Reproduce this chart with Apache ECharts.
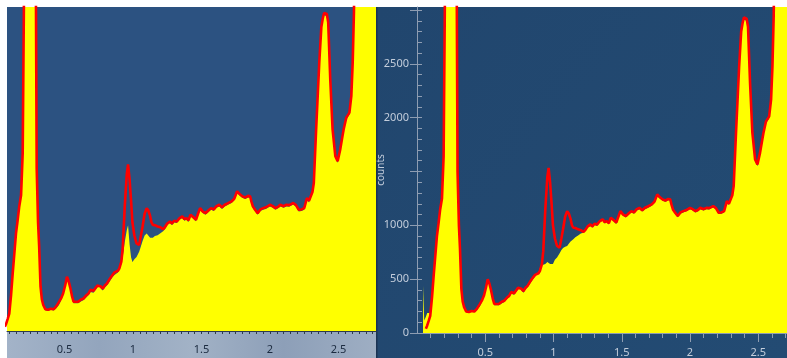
<!DOCTYPE html>
<html><head><meta charset="utf-8">
<script src="https://cdn.jsdelivr.net/npm/echarts@6/dist/echarts.min.js"></script>
<style>html,body{margin:0;padding:0;background:#fff}#c{width:787px;height:358px}</style>
</head><body><div id="c"></div>
<script>
// energy axis (x) sample positions
const xs = [
  0.044,0.045,0.051,0.053,0.065,0.075,0.085,0.097,0.11,0.122,
  0.135,0.146,0.158,0.17,0.183,0.195,0.205,0.215,0.235,0.25,
  0.265,0.28,0.29,0.297,0.307,0.315,0.325,0.335,0.345,0.36,
  0.38,0.4,0.42,0.437,0.45,0.46,0.475,0.49,0.505,0.518,
  0.53,0.542,0.555,0.566,0.58,0.6,0.62,0.64,0.66,0.675,
  0.69,0.7,0.712,0.725,0.74,0.75,0.765,0.78,0.795,0.81,
  0.83,0.85,0.865,0.875,0.89,0.9,0.915,0.925,0.94,0.955,
  0.964,0.975,0.986,0.996,1.01,1.026,1.045,1.058,1.07,1.085,
  1.1,1.112,1.125,1.135,1.145,1.16,1.18,1.2,1.22,1.235,
  1.25,1.27,1.285,1.3,1.32,1.34,1.36,1.375,1.39,1.405,
  1.42,1.44,1.46,1.475,1.49,1.51,1.53,1.55,1.57,1.59,
  1.61,1.63,1.65,1.67,1.69,1.72,1.74,1.76,1.78,1.8,
  1.82,1.84,1.855,1.865,1.875,1.89,1.91,1.93,1.95,1.97,
  2.0,2.02,2.04,2.06,2.075,2.1,2.12,2.14,2.17,2.19,
  2.21,2.23,2.25,2.27,2.285,2.295,2.31,2.32,2.337,2.36,
  2.375,2.385,2.395,2.405,2.415,2.425,2.44,2.457,2.477,2.494,
  2.513,2.53,2.538,2.557,2.58,2.594,2.604,2.613,2.625,2.65,
  2.7,2.75,2.78
];
// red spectrum (counts)
const redCounts = [
  null,null,null,null,40,70,110,160,330,530,
  730,900,1020,1150,1250,1640,3200,6000,8500,9000,
  8500,6000,3500,1500,1000,780,410,290,240,200,
  195,205,200,222,240,268,300,345,420,500,
  460,400,320,270,265,270,290,300,330,345,
  380,392,370,376,420,438,410,390,420,438,
  480,515,540,546,555,575,640,760,1150,1450,
  1534,1400,1200,1000,880,808,793,880,963,1080,
  1132,1110,1060,1000,978,975,963,955,938,960,
  990,1009,990,1015,1009,1040,1056,1030,1040,1020,
  1071,1050,1025,1080,1132,1100,1086,1110,1132,1120,
  1150,1163,1140,1163,1175,1194,1220,1287,1260,1240,
  1230,1245,1241,1190,1148,1120,1086,1120,1132,1140,
  1163,1150,1132,1145,1163,1150,1163,1160,1179,1160,
  1117,1120,1132,1225,1200,1210,1280,1364,1858,2475,
  2800,2877,2930,2938,2920,2845,2321,1858,1611,1565,
  1673,1800,1858,1966,2012,2167,2475,2938,4000,6000,
  8000,9000,9500
];
// yellow spectrum, left view (counts)
const yellowLeftCounts = [
  0,0,55,65,80,95,125,165,325,525,
  725,895,1015,1145,1245,1630,3150,5900,8450,8950,
  8450,5900,3400,1450,970,760,400,280,232,192,
  185,196,190,205,220,240,280,330,405,485,
  445,385,300,255,250,255,272,285,310,330,
  360,378,352,360,400,420,392,372,400,420,
  455,495,515,522,540,560,620,680,820,930,
  975,800,680,636,660,682,730,780,830,880,
  898,880,860,853,860,875,883,900,920,940,
  975,995,975,1000,995,1025,1040,1015,1025,1005,
  1055,1035,1010,1065,1115,1085,1070,1095,1118,1105,
  1135,1148,1125,1148,1160,1180,1205,1270,1245,1225,
  1215,1230,1226,1175,1133,1105,1072,1105,1118,1125,
  1148,1135,1118,1130,1148,1135,1148,1145,1165,1145,
  1102,1105,1118,1210,1185,1195,1265,1345,1830,2450,
  2780,2860,2910,2920,2900,2825,2300,1840,1595,1550,
  1655,1780,1840,1945,1995,2150,2450,2910,3950,5950,
  7950,8950,9450
];
// yellow spectrum, right view (counts)
const yellowRightCounts = [
  0,438,438,115,150,185,200,185,320,525,
  725,895,1015,1145,1245,1630,3150,5900,8450,8950,
  8450,5900,3400,1450,970,760,400,280,232,192,
  188,198,192,210,225,245,285,335,410,490,
  450,390,305,258,252,258,275,288,315,332,
  365,380,355,362,405,425,395,375,405,425,
  462,500,525,535,560,600,630,645,640,660,
  650,640,655,640,680,701,740,770,790,800,
  808,830,850,860,870,890,905,925,930,950,
  978,995,978,1002,995,1028,1042,1018,1028,1008,
  1058,1038,1012,1068,1118,1088,1072,1098,1120,1108,
  1138,1150,1128,1150,1162,1182,1208,1272,1248,1228,
  1218,1232,1228,1178,1136,1108,1074,1108,1120,1128,
  1150,1138,1120,1132,1150,1138,1150,1148,1168,1148,
  1105,1108,1120,1212,1188,1198,1268,1350,1835,2455,
  2780,2860,2910,2920,2900,2825,2300,1840,1595,1550,
  1655,1780,1840,1945,1995,2150,2450,2910,3950,5950,
  7950,8950,9450
];
// tick labels
const xTickLabels = [0.5, 1, 1.5, 2, 2.5];
const yTickLabels = [0, 500, 1000, 2000, 2500];
const yMajorTicks = [0, 500, 1000, 1500, 2000, 2500, 3000];
const leftMinorTicks = [];
for (let i = 2; i <= 55; i++) leftMinorTicks.push(Math.round(i * 5) / 100);
const rightMinorX = [];
for (let i = 1; i <= 27; i++) rightMinorX.push(i / 10);
const rightMinorY = [];
for (let i = 0; i <= 30; i++) rightMinorY.push(i * 100);

const pairs = arr => xs.map((x, i) => [x, arr[i]]);
const lightTxt = '#c3cddb';
const axisGray = '#8e9db2';
const plain = v => String(v);

const chart = echarts.init(document.getElementById('c'));
chart.setOption({
  animation: false,
  backgroundColor: '#ffffff',
  graphic: [
    { type: 'rect', z: -100, shape: { x: 376, y: 7, width: 411, height: 351 },
      style: { fill: { type: 'linear', x: 0, y: 0, x2: 1, y2: 1, colorStops: [
        { offset: 0, color: '#21466e' }, { offset: 1, color: '#234b73' }] } } },
    { type: 'rect', z: -99, shape: { x: 376, y: 7, width: 1.5, height: 351 }, style: { fill: '#1a3353' } },
    { type: 'rect', z: -100, shape: { x: 7, y: 331, width: 369, height: 27 },
      style: { fill: { type: 'linear', x: 0, y: 0, x2: 1, y2: 0, colorStops: [
        { offset: 0, color: '#a3b3c8' }, { offset: 0.25, color: '#93a5bd' },
        { offset: 0.5, color: '#a2b2c6' }, { offset: 0.75, color: '#8d9fb8' },
        { offset: 1, color: '#9eaec3' }] } } }
  ],
  grid: [
    { left: 7, top: 7, width: 369, height: 324, show: true, backgroundColor: '#2c5281', borderWidth: 0 },
    { left: 417, top: 7, width: 370, height: 327, show: false }
  ],
  xAxis: [
    { gridIndex: 0, type: 'value', min: 0.0803, max: 2.774, position: 'bottom',
      axisLine: { show: true, lineStyle: { color: '#2e3a4a', width: 1 } },
      axisTick: { show: true, customValues: leftMinorTicks, length: 3, lineStyle: { color: '#2e3a4a' } },
      axisLabel: { customValues: xTickLabels, formatter: plain, color: '#1c2b40', fontSize: 11, margin: 13, fontFamily: 'Noto Sans' },
      splitLine: { show: false } },
    { gridIndex: 1, type: 'value', min: 0, max: 2.7106, position: 'bottom',
      axisLine: { show: true, lineStyle: { color: axisGray } },
      axisTick: { show: true, customValues: xTickLabels, length: 9, lineStyle: { color: axisGray } },
      axisLabel: { customValues: xTickLabels, formatter: plain, color: lightTxt, fontSize: 11, margin: 14, fontFamily: 'Noto Sans' },
      splitLine: { show: false } },
    { gridIndex: 1, type: 'value', min: 0, max: 2.7106, position: 'bottom',
      axisLine: { show: false },
      axisTick: { show: true, customValues: rightMinorX, length: 5, lineStyle: { color: axisGray } },
      axisLabel: { show: false }, splitLine: { show: false } }
  ],
  yAxis: [
    { gridIndex: 0, type: 'value', min: 0, max: 2985, show: false, splitLine: { show: false } },
    { gridIndex: 1, type: 'value', min: 0, max: 3028, position: 'left',
      name: 'counts', nameLocation: 'middle', nameGap: 31, nameMoveOverlap: false,
      nameTextStyle: { color: lightTxt, fontSize: 10, fontFamily: 'Noto Sans' },
      axisLine: { show: true, lineStyle: { color: axisGray } },
      axisTick: { show: true, customValues: yMajorTicks, length: 7, lineStyle: { color: axisGray } },
      axisLabel: { customValues: yTickLabels, formatter: plain, color: lightTxt, fontSize: 11, margin: 8, fontFamily: 'Noto Sans' },
      splitLine: { show: false } },
    { gridIndex: 1, type: 'value', min: 0, max: 3028, position: 'left',
      axisLine: { show: false },
      axisTick: { show: true, inside: true, customValues: rightMinorY, length: 5, lineStyle: { color: axisGray } },
      axisLabel: { show: false }, splitLine: { show: false } }
  ],
  series: [
    { type: 'line', xAxisIndex: 0, yAxisIndex: 0, data: pairs(yellowLeftCounts), showSymbol: false,
      lineStyle: { width: 0 }, areaStyle: { color: '#ffff00', opacity: 1 }, z: 2, clip: true },
    { type: 'line', xAxisIndex: 0, yAxisIndex: 0, data: pairs(redCounts), showSymbol: false,
      lineStyle: { width: 2.6, color: '#ff0000' }, itemStyle: { color: '#ff0000' }, z: 3, clip: true },
    { type: 'line', xAxisIndex: 1, yAxisIndex: 1, data: pairs(yellowRightCounts), showSymbol: false,
      lineStyle: { width: 0 }, areaStyle: { color: '#ffff00', opacity: 1 }, z: 2, clip: true },
    { type: 'line', xAxisIndex: 1, yAxisIndex: 1, data: pairs(redCounts), showSymbol: false,
      lineStyle: { width: 2.6, color: '#ff0000' }, itemStyle: { color: '#ff0000' }, z: 3, clip: true }
  ]
});
</script></body></html>
